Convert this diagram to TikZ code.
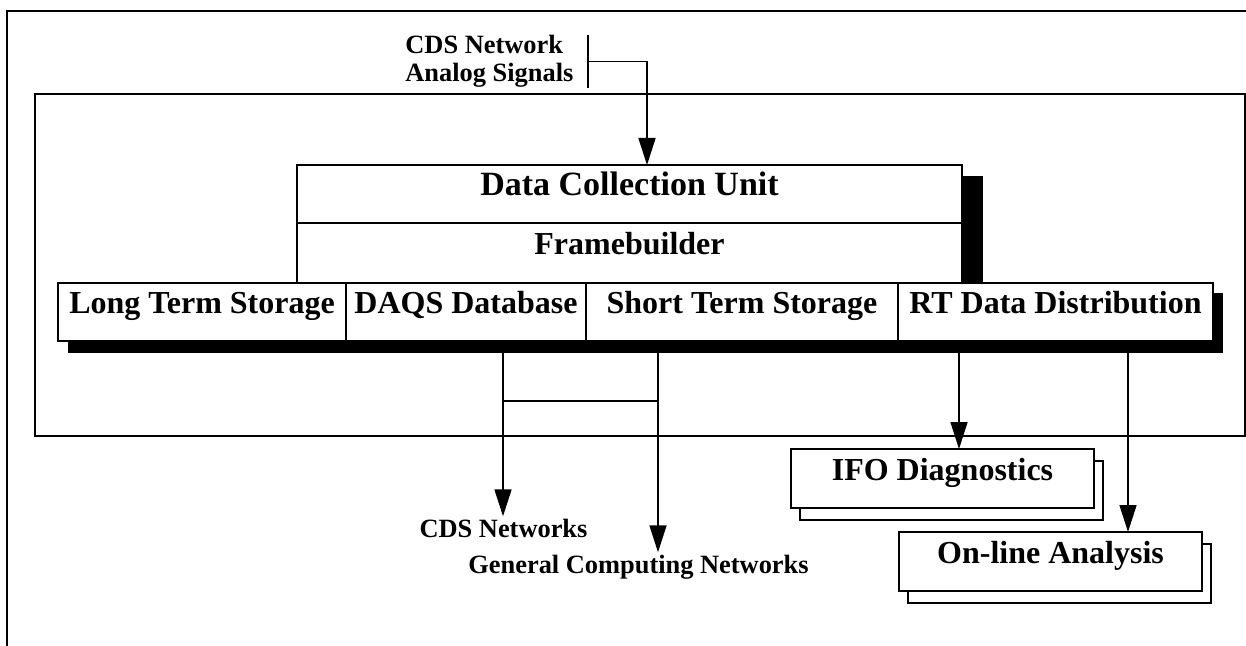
\documentclass[tikz,border=0pt]{standalone}
\usepackage{fontspec}
\setmainfont{Liberation Serif}
\usetikzlibrary{arrows.meta, positioning, shadows}
\newcommand\headfont{\bfseries\fontsize{17}{20}\selectfont}
\newcommand\boxfont{\bfseries\fontsize{16}{19}\selectfont}
\newcommand\netfont{\bfseries\fontsize{13.2}{14}\selectfont}
\tikzset{
>={Triangle[length=13.5pt, width=8.5pt]}, % large filled arrow heads
box/.style={draw, line width=1pt, fill=white, inner sep=0pt, outer sep=0pt,
  text height=0.7em, text depth=0.5em, font=\boxfont}, % every framed block
cell/.style={box, minimum height=29pt}, % one cell of the storage row
stacked/.style={box, minimum width=151.5pt, minimum height=29.5pt,
  copy shadow={shadow xshift=4.5pt, shadow yshift=-6pt}}, % client boxes
link/.style={line width=0.8pt}, % connectors
netlabel/.style={font=\netfont, inner sep=1pt}, % free texts
}
\begin{document}
\begin{tikzpicture}[x=0.5pt, y=-0.5pt]
\useasboundingbox (0,0) rectangle (1246,646);
% frames
\draw[line width=1pt] (7,646) -- (7,11) -- (1246,11);
\draw[line width=0.8pt] (35,94) rectangle (1245,436);
% black shadows
\fill (962,176) rectangle (983,283);
\fill (68,293) rectangle (1223,353);
% framebuilder
\node[box, font=\headfont, minimum width=332.5pt, minimum height=29pt, anchor=north west] (dcu) at (297,165) {Data Collection Unit};
\node[box, minimum width=332.5pt, minimum height=30pt, below=0pt of dcu] (fb) {Framebuilder};
\node[cell, minimum width=144pt, anchor=north west] (lts) at (58,283) {Long Term Storage};
\node[cell, minimum width=120pt, right=0pt of lts] (daqs) {DAQS Database};
\node[cell, minimum width=156pt, right=0pt of daqs] (sts) {Short Term Storage};
\node[cell, minimum width=157.5pt, right=0pt of sts] (rtd) {RT Data Distribution};
% input
\node[netlabel, align=left, inner sep=0pt, anchor=north west] (insig) at (405,35) {CDS Network\\Analog Signals};
\draw[link] ([xshift=7pt]insig.north east) -- ([xshift=7pt]insig.south east);
\draw[->, link] ([xshift=7pt]insig.east) -| ([xshift=8.75pt]dcu.north);
% outputs
\node[netlabel, anchor=base] (cdsnet) at (503.5,537) {CDS Networks};
\node[netlabel, anchor=base] (gcn) at (638.5,573) {General Computing Networks};
\node[stacked, anchor=north west] (ifo) at (791,449) {IFO Diagnostics};
\node[stacked, anchor=north west] (ola) at (899,532) {On-line Analysis};
\coordinate (cdstap) at (503,341);
\coordinate (gcntap) at (658,341);
\coordinate (ifotap) at (959,341);
\coordinate (olatap) at (1128,341);
\coordinate (split) at (503,401);
\draw[->, link] (cdstap) -- (cdstap |- cdsnet.north);
\draw[->, link] (gcntap) -- (gcntap |- gcn.north);
\draw[link] (split) -- (split -| gcntap);
\draw[->, link] (ifotap) -- (ifotap |- ifo.north);
\draw[->, link] (olatap) -- (olatap |- ola.north);
\end{tikzpicture}
\end{document}
